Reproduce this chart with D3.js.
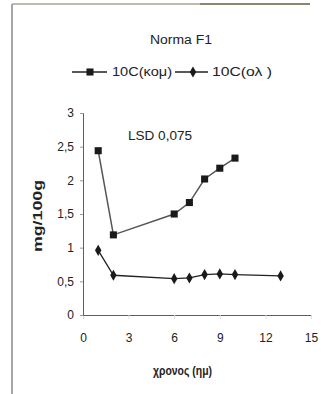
<!DOCTYPE html>
<html>
<head>
<meta charset="utf-8">
<script src="https://cdn.jsdelivr.net/npm/d3@7"></script>
<style>
  body { margin: 0; background: #fff; }
  text { font-family: "Liberation Sans", Arial, sans-serif; fill: #222; }
</style>
</head>
<body>
<div id="chart"></div>
<script>
// data
var days = [1, 2, 6, 7, 8, 9, 10]
var kom = [2.44, 1.19, 1.50, 1.67, 2.02, 2.18, 2.33]
var olDays = [1, 2, 6, 7, 8, 9, 10, 13]
var ol = [0.96, 0.59, 0.54, 0.55, 0.60, 0.61, 0.60, 0.58]
var xTicks = [0, 3, 6, 9, 12, 15]
var yTicks = [0, 0.5, 1, 1.5, 2, 2.5, 3]

var width = 321, height = 394

var svg = d3.select("#chart")
  .append("svg")
    .attr("width", width)
    .attr("height", height)

// frame
svg.append("line")
    .attr("x1", 12).attr("x2", 12).attr("y1", 4).attr("y2", 394)
    .attr("stroke", "#8a8a8a").attr("stroke-width", 1.5)
svg.append("line")
    .attr("x1", 12).attr("x2", 310).attr("y1", 4).attr("y2", 4)
    .attr("stroke", "#a8a594").attr("stroke-width", 1.5)
svg.append("line")
    .attr("x1", 200).attr("x2", 310).attr("y1", 4).attr("y2", 4)
    .attr("stroke", "#8c8670").attr("stroke-width", 2)

var x = d3.scaleLinear().domain([0, 15]).range([83, 311])
var y = d3.scaleLinear().domain([0, 3]).range([315, 113])

var fmt = function(d) { return String(d).replace(".", ",") }

// axes
var xAxis = svg.append("g")
    .attr("transform", "translate(0," + y(0) + ")")
    .call(d3.axisBottom(x).tickValues(xTicks).tickSize(4).tickPadding(14).tickFormat(fmt))
xAxis.select(".domain").attr("stroke", "#556070")
xAxis.selectAll(".tick line").attr("stroke", "#ddd")
xAxis.selectAll(".tick text")
    .style("font-size", "12px")
    .attr("fill", function(d) { return d == 0 ? "#bbb" : "#222" })

var yAxis = svg.append("g")
    .attr("transform", "translate(" + x(0) + ",0)")
    .call(d3.axisLeft(y).tickValues(yTicks).tickSize(3).tickPadding(6).tickFormat(fmt))
yAxis.select(".domain").attr("stroke", "#556070")
yAxis.selectAll(".tick line").attr("stroke", "#999")
yAxis.selectAll(".tick text").style("font-size", "12px")

// labels
svg.append("text")
    .attr("x", 150).attr("y", 44)
    .style("font-size", "12px")
    .attr("textLength", 62).attr("lengthAdjust", "spacingAndGlyphs")
    .attr("fill", "#333")
    .text("Norma F1")

svg.append("text")
    .attr("x", 128).attr("y", 140)
    .style("font-size", "12px")
    .attr("textLength", 64).attr("lengthAdjust", "spacingAndGlyphs")
    .text("LSD 0,075")

svg.append("text")
    .attr("x", 153).attr("y", 375)
    .style("font-size", "13px")
    .style("font-weight", "bold")
    .attr("textLength", 59).attr("lengthAdjust", "spacingAndGlyphs")
    .attr("fill", "#333")
    .text("χρονος (ημ)")

svg.append("text")
    .attr("transform", "translate(42,252) rotate(-90)")
    .style("font-size", "12px")
    .style("font-weight", "bold")
    .attr("textLength", 72).attr("lengthAdjust", "spacingAndGlyphs")
    .text("mg/100g")

// series
var lineKom = d3.line()
    .x(function(d, i) { return x(days[i]) })
    .y(function(d) { return y(d) })
var lineOl = d3.line()
    .x(function(d, i) { return x(olDays[i]) })
    .y(function(d) { return y(d) })

svg.append("path")
    .attr("d", lineOl(ol))
    .attr("fill", "none")
    .attr("stroke", "#222")
    .attr("stroke-width", 1.3)

svg.append("path")
    .attr("d", lineKom(kom))
    .attr("fill", "none")
    .attr("stroke", "#555")
    .attr("stroke-width", 1.5)

var sq = d3.symbol().type(d3.symbolSquare).size(50)
var dia = d3.symbol().type(d3.symbolDiamond).size(36)

svg.append("g").selectAll("path")
    .data(kom)
    .enter()
    .append("path")
      .attr("d", sq)
      .attr("transform", function(d, i) { return "translate(" + x(days[i]) + "," + y(d) + ")" })
      .attr("fill", "#1a1a1a")

svg.append("g").selectAll("path")
    .data(ol)
    .enter()
    .append("path")
      .attr("d", dia)
      .attr("transform", function(d, i) { return "translate(" + x(olDays[i]) + "," + y(d) + ")" })
      .attr("fill", "#1a1a1a")

// legend
var leg = svg.append("g")
leg.append("line").attr("x1", 72).attr("x2", 107).attr("y1", 72).attr("y2", 72)
    .attr("stroke", "#222").attr("stroke-width", 1.5)
leg.append("path").attr("d", sq).attr("transform", "translate(90,72)").attr("fill", "#1a1a1a")
leg.append("text").attr("x", 112).attr("y", 76).style("font-size", "12px")
    .attr("textLength", 60).attr("lengthAdjust", "spacingAndGlyphs")
    .text("10C(κομ)")
leg.append("line").attr("x1", 175).attr("x2", 208).attr("y1", 72).attr("y2", 72)
    .attr("stroke", "#222").attr("stroke-width", 1.5)
leg.append("path").attr("d", dia).attr("transform", "translate(193,72)").attr("fill", "#1a1a1a")
leg.append("text").attr("x", 212).attr("y", 76).style("font-size", "12px")
    .attr("textLength", 60).attr("lengthAdjust", "spacingAndGlyphs")
    .text("10C(ολ )")
</script>
</body>
</html>
